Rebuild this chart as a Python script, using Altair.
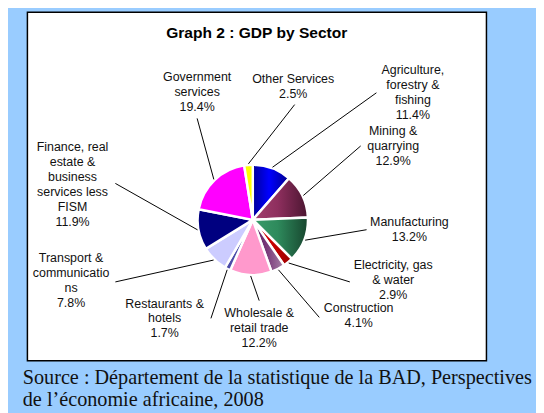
import altair as alt
import pandas as pd
import math

# ---------------- data ----------------
title_text = ["Graph 2 : GDP by Sector"]
source_lines = ["Source : Département de la statistique de la BAD, Perspectives",
                "de l\u2019économie africaine, 2008"]

sectors = ["Agriculture, forestry & fishing", "Mining & quarrying", "Manufacturing",
           "Electricity, gas & water", "Construction", "Wholesale & retail trade",
           "Restaurants & hotels", "Transport & communications",
           "Finance, real estate & business services less FISM",
           "Government services", "Other Services"]
shares = [11.4, 12.9, 13.2, 2.9, 4.1, 12.2, 1.7, 7.8, 11.9, 19.4, 2.5]
label_text = [
    ["Agriculture,", "forestry &", "fishing"],
    ["Mining &", "quarrying"],
    ["Manufacturing"],
    ["Electricity, gas", "& water"],
    ["Construction"],
    ["Wholesale &", "retail trade"],
    ["Restaurants &", "hotels"],
    ["Transport &", "communicatio", "ns"],
    ["Finance, real", "estate &", "business", "services less", "FISM"],
    ["Government", "services"],
    ["Other Services"],
]

# ---------------- layout / style ----------------
label_x = [419, 399, 415.5, 399, 364, 263, 167, 72, 73.5, 200, 297.5]
label_y = [68, 130, 222, 266, 310, 315, 305, 259, 146, 75, 77]
leader_x = [382, 366, 372, 355, 324, 263, 214, 117, 117, 200, 299]
leader_y = [91, 145, 230, 283, 319, 302, 320, 283, 183, 117, 103]

slice_fill = [
    ["#00009A", "#0000FF", "#00008C"],
    ["#A3406F", "#8E2F5E", "#4A1530"],
    ["#3A9C6A", "#2E8A5C", "#17452E"],
    ["#E00000", "#CC0000", "#990000"],
    ["#5A145A", "#7A3A7A", "#A682A6"],
    ["#FF99CC", "#FF99CC", "#FF99CC"],
    ["#4B4BA8", "#4B4BA8", "#4B4BA8"],
    ["#CCCCFF", "#CCCCFF", "#CCCCFF"],
    ["#000080", "#000080", "#000080"],
    ["#FF00FF", "#FF00FF", "#FF00FF"],
    ["#FFFF00", "#FFFF00", "#FFFF00"],
]

PAGE_OFF = 8
CX, CY, R = 256.5, 220.0, 56
W, H = 536, 405

XS = alt.Scale(domain=[PAGE_OFF, PAGE_OFF + W], nice=False, zero=False)
YS = alt.Scale(domain=[PAGE_OFF, PAGE_OFF + H], nice=False, zero=False, reverse=True)
TS = alt.Scale(domain=[0, 100], range=[0, 2 * math.pi])

# ---------------- derived tables ----------------
starts, ends, acc = [], [], 0.0
for v in shares:
    starts.append(acc)
    acc += v
    ends.append(acc)

pie_df = pd.DataFrame({"sector": sectors, "share": shares, "start": starts, "end": ends})

mid = [(s + e) / 2 / 100 * 2 * math.pi for s, e in zip(starts, ends)]
lab_df = pd.DataFrame({
    "sector": sectors,
    "x": label_x,
    "y": label_y,
    "text": ["\n".join(t + [f"{v:.1f}%"]) for t, v in zip(label_text, shares)],
    "lx": leader_x,
    "ly": leader_y,
    "px": [CX + (R + 1) * math.sin(a) for a in mid],
    "py": [CY - (R + 1) * math.cos(a) for a in mid],
})

one = pd.DataFrame({"t": title_text})
src = pd.DataFrame({"t": ["\n".join(source_lines)]})

# ---------------- layers ----------------
box = alt.Chart(one).mark_rect(fill="white", stroke="black", strokeWidth=1.5).encode(
    x=alt.X(datum=27.7, scale=XS, axis=None), x2=alt.X2(datum=493.7),
    y=alt.Y(datum=9.3, scale=YS, axis=None), y2=alt.Y2(datum=363),
)

title = alt.Chart(one).mark_text(font="Liberation Sans", fontSize=15.8, fontWeight="bold",
                                 baseline="alphabetic", align="center", color="black").encode(
    x=alt.X(datum=260.5, scale=XS, axis=None),
    y=alt.Y(datum=35, scale=YS, axis=None),
    text="t:N",
)

arcs = []
for i, s in enumerate(sectors):
    c0, c1, c2 = slice_fill[i]
    grad = {"gradient": "linear", "x1": 0, "y1": 0.5, "x2": 1, "y2": 0.5,
            "stops": [{"offset": 0, "color": c0}, {"offset": 0.45, "color": c1},
                      {"offset": 1, "color": c2}]}
    arcs.append(
        alt.Chart(pie_df).transform_filter(alt.datum.sector == s)
        .mark_arc(outerRadius=R, fill=grad, stroke="white", strokeWidth=2.5)
        .encode(
            theta=alt.Theta("start:Q", scale=TS),
            theta2=alt.Theta2("end:Q"),
            x=alt.value(CX - PAGE_OFF),
            y=alt.value(CY - PAGE_OFF),
        )
    )

leaders = alt.Chart(lab_df).mark_rule(color="black", strokeWidth=1).encode(
    x=alt.X("px:Q", scale=XS, axis=None), y=alt.Y("py:Q", scale=YS, axis=None),
    x2="lx:Q", y2="ly:Q",
)

labels = alt.Chart(lab_df).mark_text(font="Liberation Sans", fontSize=12.6, lineBreak="\n",
                                     lineHeight=15.2, baseline="middle", align="center",
                                     color="#111111").encode(
    x=alt.X("x:Q", scale=XS, axis=None), y=alt.Y("y:Q", scale=YS, axis=None), text="text:N",
)

source = alt.Chart(src).mark_text(font="Liberation Serif", fontSize=20.5, lineBreak="\n",
                                  lineHeight=22, baseline="alphabetic", align="left",
                                  color="#111111").encode(
    x=alt.X(datum=23, scale=XS, axis=None), y=alt.Y(datum=387, scale=YS, axis=None), text="t:N",
)

chart = alt.layer(box, title, *arcs, leaders, labels, source).properties(
    width=W, height=H, padding=0, autosize="none", background="#99CCFF",
).configure_view(stroke=None)

chart.save("out.html", embed_options={"renderer": "svg", "actions": False})
